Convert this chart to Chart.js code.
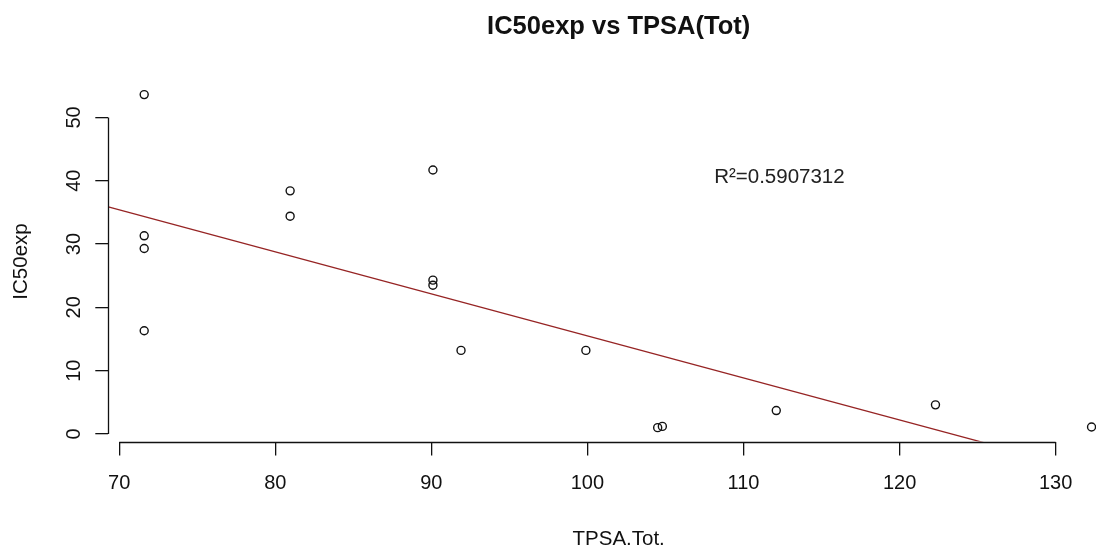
<!DOCTYPE html>
<html>
<head>
<meta charset="utf-8">
<title>IC50exp vs TPSA(Tot)</title>
<script src="https://cdn.jsdelivr.net/npm/chart.js@4.4.1/dist/chart.umd.min.js"></script>
<style>
  html, body { margin: 0; padding: 0; background: #fff; overflow: hidden; }
  /* plot region runs a little past the right edge of the window */
  #wrap { width: 1129px; height: 550px; position: relative; }
</style>
</head>
<body>
<div id="wrap"><canvas id="ic50Chart"></canvas></div>
<script>
// measured compounds
const tpsaTot = [71.6, 71.6, 71.6, 71.6, 80.95, 80.95, 90.1, 90.1, 90.1, 91.9, 99.9, 104.5, 104.8, 112.1, 122.3, 132.3];
const ic50exp = [53.6, 31.3, 29.3, 16.3, 38.4, 34.4, 41.7, 24.3, 23.5, 13.2, 13.2, 1.0, 1.2, 3.7, 4.6, 1.1];

// lm(IC50exp ~ TPSA.Tot) coefficients
const fitIntercept = 81.9;
const fitSlope = -0.664;
const r2Label = 'R\u00B2=0.5907312';
const r2Pos = [112.3, 40.6];

const xTicks = [70, 80, 90, 100, 110, 120, 130];
const yTicks = [0, 10, 20, 30, 40, 50];
const xRange = [69.3, 134.7];
const yRange = [-1.2, 55.7];

const FONT = '"Liberation Sans", Arial, sans-serif';
const INK = '#111';

const fitLine = xRange.map(x => ({ x: x, y: fitIntercept + fitSlope * x }));
const points = tpsaTot.map((x, i) => ({ x: x, y: ic50exp[i] }));

// R-style axes: the axis line only runs between the first and last tick
const rAxes = {
  id: 'rAxes',
  afterDraw(chart) {
    const { ctx, scales: { x, y } } = chart;
    ctx.save();
    ctx.strokeStyle = INK;
    ctx.lineWidth = 1.3;
    ctx.beginPath();
    const by = Math.round(x.top) + 0.5;
    ctx.moveTo(x.getPixelForValue(xTicks[0]), by);
    ctx.lineTo(x.getPixelForValue(xTicks[xTicks.length - 1]), by);
    const bx = Math.round(y.right) + 0.5;
    ctx.moveTo(bx, y.getPixelForValue(yTicks[0]));
    ctx.lineTo(bx, y.getPixelForValue(yTicks[yTicks.length - 1]));
    ctx.stroke();

    ctx.fillStyle = '#222';
    ctx.font = '20.5px ' + FONT;
    ctx.textAlign = 'center';
    ctx.textBaseline = 'middle';
    ctx.fillText(r2Label, x.getPixelForValue(r2Pos[0]), y.getPixelForValue(r2Pos[1]));
    ctx.restore();
  }
};

const fixTicks = list => scale => { scale.ticks = list.map(v => ({ value: v })); };

new Chart(document.getElementById('ic50Chart'), {
  type: 'scatter',
  data: {
    datasets: [
      {
        type: 'line',
        data: fitLine,
        borderColor: '#962424',
        borderWidth: 1.3,
        pointRadius: 0,
        fill: false
      },
      {
        data: points,
        pointStyle: 'circle',
        pointRadius: 4,
        pointHoverRadius: 4,
        borderWidth: 1.4,
        borderColor: INK,
        backgroundColor: 'rgba(0,0,0,0)',
        clip: false
      }
    ]
  },
  options: {
    responsive: true,
    maintainAspectRatio: false,
    animation: false,
    events: [],
    layout: { autoPadding: false, padding: 0 },
    plugins: {
      legend: { display: false },
      tooltip: { enabled: false },
      title: {
        display: true,
        fullSize: false,
        text: 'IC50exp vs TPSA(Tot)',
        color: INK,
        font: { family: FONT, size: 25.5, weight: 'bold', lineHeight: 1 },
        padding: { top: 14, bottom: 41.8 }
      }
    },
    scales: {
      x: {
        type: 'linear',
        min: xRange[0],
        max: xRange[1],
        afterBuildTicks: fixTicks(xTicks),
        afterFit(scale) {
          scale.height = 108.4;
          scale.paddingLeft = 0;
          scale.paddingRight = 0;
        },
        border: { display: false },
        grid: { drawOnChartArea: false, drawTicks: true, tickLength: 14, color: INK, lineWidth: 1.3 },
        ticks: { color: INK, font: { family: FONT, size: 20 }, padding: 16, maxRotation: 0, autoSkip: false },
        title: {
          display: true,
          text: 'TPSA.Tot.',
          color: INK,
          font: { family: FONT, size: 20.5, lineHeight: 1 },
          padding: { top: 0, bottom: 0 }
        }
      },
      y: {
        type: 'linear',
        min: yRange[0],
        max: yRange[1],
        afterBuildTicks: fixTicks(yTicks),
        afterFit(scale) {
          scale.width = 108.3;
          scale.paddingTop = 0;
          scale.paddingBottom = 0;
        },
        border: { display: false },
        grid: { drawOnChartArea: false, drawTicks: true, tickLength: 13, color: INK, lineWidth: 1.3 },
        ticks: {
          color: INK,
          font: { family: FONT, size: 20 },
          padding: 10,
          minRotation: 90,
          maxRotation: 90,
          crossAlign: 'center',
          autoSkip: false
        },
        title: {
          display: true,
          text: 'IC50exp',
          color: INK,
          font: { family: FONT, size: 20.5, lineHeight: 1 },
          padding: { top: 11, bottom: 0 }
        }
      }
    }
  },
  plugins: [rAxes]
});
</script>
</body>
</html>
